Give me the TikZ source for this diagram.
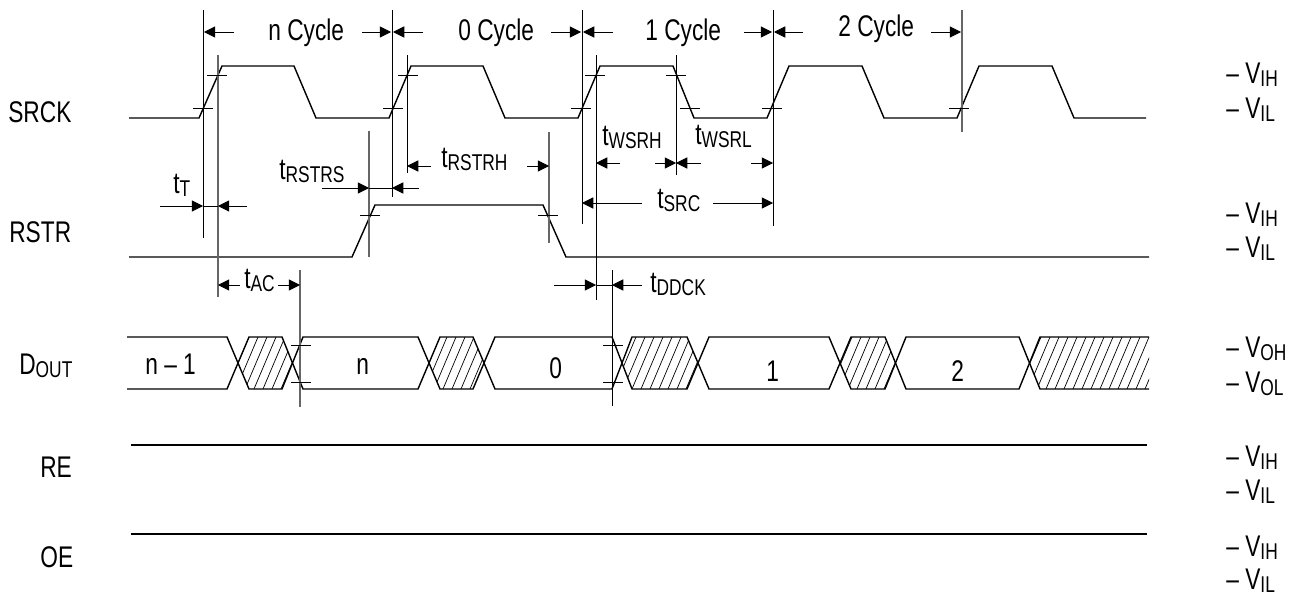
\documentclass[tikz,border=0pt]{standalone}
\usepackage{fontspec}
\setmainfont[FakeStretch=0.76]{Liberation Sans}
\usetikzlibrary{arrows.meta}

\newcommand{\sigsub}[2]{#1\raisebox{-2pt}{\fontsize{13}{13}\selectfont #2}}

\tikzset{
    signal/.style={line width=.8pt},
    thinline/.style={line width=.5pt},
    grayline/.style={line width=.8pt, black!60},
    tick/.style={line width=.45pt},
    hatchline/.style={line width=.4pt},
    dimarrow/.style={-{Triangle[length=6.4pt,width=6.4pt]}, line width=.5pt},
    txt/.style={anchor=base west, inner sep=0pt, font=\fontsize{17}{18}\selectfont},
}

\begin{document}
\begin{tikzpicture}[x=.02cm, y=-.02cm]
    \useasboundingbox (0,0) rectangle (1301,595);

    \draw[signal] (129,118) -- (199,118) -- (222,66) -- (294,66) -- (316,118) -- (389,118) -- (411,66) -- (483,66) -- (505,118) -- (578,118) -- (600,66) -- (673,66) -- (694,118) -- (767,118) -- (789,66) -- (862,66) -- (884,118) -- (957,118) -- (979,66) -- (1052,66) -- (1074,118) -- (1146,118);
    \draw[signal] (129,257) -- (352,257) -- (375,205) -- (543,205) -- (566,257) -- (1149,257);

    \draw[signal] (127,337) -- (227,337) -- (249,389) -- (282,389) -- (303,337) -- (418,337) -- (440,389) -- (473,389) -- (495,337) -- (612,337) -- (632,389) -- (687,389) -- (709,337) -- (829,337) -- (851,389) -- (885,389) -- (906,337) -- (1019,337) -- (1040,389) -- (1149,389);
    \draw[signal] (127,389) -- (227,389) -- (249,337) -- (282,337) -- (303,389) -- (418,389) -- (440,337) -- (473,337) -- (495,389) -- (612,389) -- (632,337) -- (687,337) -- (709,389) -- (829,389) -- (851,337) -- (885,337) -- (906,389) -- (1019,389) -- (1040,337) -- (1149,337);

    \begin{scope}
        \clip (238,363) -- (249,337) -- (282,337) -- (292,363) -- (282,389) -- (249,389) -- cycle
              (429,363) -- (440,337) -- (473,337) -- (484,363) -- (473,389) -- (440,389) -- cycle
              (622,363) -- (632,337) -- (687,337) -- (698,363) -- (687,389) -- (632,389) -- cycle
              (840,363) -- (851,337) -- (885,337) -- (895,363) -- (885,389) -- (851,389) -- cycle
              (1030,363) -- (1040,337) -- (1149,337) -- (1149,389) -- (1040,389) -- cycle;
        \foreach \hx in {200,209,...,1150}
            \draw[hatchline] (\hx,389) -- ++(22,-52);
    \end{scope}

    \draw[signal] (131,445) -- (1147,445);
    \draw[signal] (131,534) -- (1147,534);

    \draw[thinline] (203,10) -- (203,238);
    \draw[grayline] (218,55) -- (218,297);
    \draw[thinline] (392,10) -- (392,197);
    \draw[thinline] (407,55) -- (407,173);
    \draw[grayline] (369,131) -- (369,257);
    \draw[grayline] (300,270) -- (300,407);
    \draw[thinline] (582,10) -- (582,224);
    \draw[thinline] (596,55) -- (596,300);
    \draw[thinline] (612,270) -- (612,406);
    \draw[thinline] (676,55) -- (676,175);
    \draw[thinline] (773,10) -- (773,226);
    \draw[grayline] (549,132) -- (549,243);
    \draw[grayline] (962,10) -- (962,132);

    \draw[tick] (207,75) -- (227,75);
    \draw[tick] (193,108) -- (213,108);
    \draw[tick] (398,75) -- (418,75);
    \draw[tick] (383,108) -- (403,108);
    \draw[tick] (585,75) -- (605,75);
    \draw[tick] (571,108) -- (591,108);
    \draw[tick] (666,75) -- (686,75);
    \draw[tick] (680,108) -- (700,108);
    \draw[tick] (762,108) -- (782,108);
    \draw[tick] (949,108) -- (969,108);
    \draw[tick] (360,215) -- (380,215);
    \draw[tick] (538,215) -- (558,215);
    \draw[tick] (291,345) -- (311,345);
    \draw[tick] (291,382) -- (311,382);
    \draw[tick] (603,345) -- (623,345);
    \draw[tick] (603,382) -- (623,382);

    \draw[dimarrow] (234,32) -- (204,32);
    \draw[dimarrow] (362,32) -- (391,32);
    \draw[dimarrow] (423,32) -- (393,32);
    \draw[dimarrow] (551,32) -- (581,32);
    \draw[dimarrow] (613,32) -- (583,32);
    \draw[dimarrow] (744,32) -- (772,32);
    \draw[dimarrow] (803,32) -- (774,32);
    \draw[dimarrow] (931,32) -- (961,32);

    \draw[dimarrow] (160,206) -- (203,206);
    \draw[dimarrow] (247,206) -- (218,206);
    \draw[thinline] (203,206) -- (218,206);
    \draw[dimarrow] (322,188) -- (369,188);
    \draw[dimarrow] (419,188) -- (392,188);
    \draw[thinline] (369,188) -- (392,188);
    \draw[dimarrow] (431,166) -- (407,166);
    \draw[dimarrow] (527,166) -- (549,166);
    \draw[dimarrow] (240,285) -- (218,285);
    \draw[dimarrow] (278,285) -- (300,285);
    \draw[dimarrow] (620,163) -- (596,163);
    \draw[dimarrow] (655,163) -- (676,163);
    \draw[dimarrow] (701,163) -- (676,163);
    \draw[dimarrow] (751,163) -- (773,163);
    \draw[dimarrow] (642,203) -- (582,203);
    \draw[dimarrow] (713,203) -- (773,203);
    \draw[dimarrow] (554,285) -- (596,285);
    \draw[dimarrow] (642,285) -- (612,285);
    \draw[thinline] (596,285) -- (612,285);

    \node[txt] (ncycle) at (268,40) {n Cycle};
    \node[txt] (zerocycle) at (458,40) {0 Cycle};
    \node[txt] (onecycle) at (645,40) {1 Cycle};
    \node[txt] (twocycle) at (838,36) {2 Cycle};

    \node[txt] (srck) at (8,122) {SRCK};
    \node[txt] (rstr) at (9,242) {RSTR};
    \node[txt] (dout) at (19,374) {\sigsub{D}{OUT}};
    \node[txt] (re) at (40,477) {RE};
    \node[txt] (oe) at (40,567) {OE};

    \node[txt] (tt) at (173,193) {\sigsub{t}{T}};
    \node[txt] (trstrs) at (279,179) {\sigsub{t}{RSTRS}};
    \node[txt] (trstrh) at (441,167) {\sigsub{t}{RSTRH}};
    \node[txt] (tac) at (244,288) {\sigsub{t}{AC}};
    \node[txt] (twsrh) at (602,145) {\sigsub{t}{WSRH}};
    \node[txt] (twsrl) at (695,144) {\sigsub{t}{WSRL}};
    \node[txt] (tsrc) at (657,208) {\sigsub{t}{SRC}};
    \node[txt] (tddck) at (650,292) {\sigsub{t}{DDCK}};

    \node[txt] (dnm) at (145,374) {n – 1};
    \node[txt] (dn) at (356,374) {n};
    \node[txt] (dzero) at (549,378) {0};
    \node[txt] (done) at (766,381) {1};
    \node[txt] (dtwo) at (951,381) {2};

    \node[txt] (srckh) at (1226,83) {– \sigsub{V}{IH}};
    \node[txt] (srckl) at (1226,118) {– \sigsub{V}{IL}};
    \node[txt] (rstrh) at (1226,223) {– \sigsub{V}{IH}};
    \node[txt] (rstrl) at (1226,257) {– \sigsub{V}{IL}};
    \node[txt] (douth) at (1226,357) {– \sigsub{V}{OH}};
    \node[txt] (doutl) at (1226,392) {– \sigsub{V}{OL}};
    \node[txt] (reh) at (1226,466) {– \sigsub{V}{IH}};
    \node[txt] (rel) at (1226,500) {– \sigsub{V}{IL}};
    \node[txt] (oeh) at (1226,556) {– \sigsub{V}{IH}};
    \node[txt] (oel) at (1226,589) {– \sigsub{V}{IL}};
\end{tikzpicture}
\end{document}
